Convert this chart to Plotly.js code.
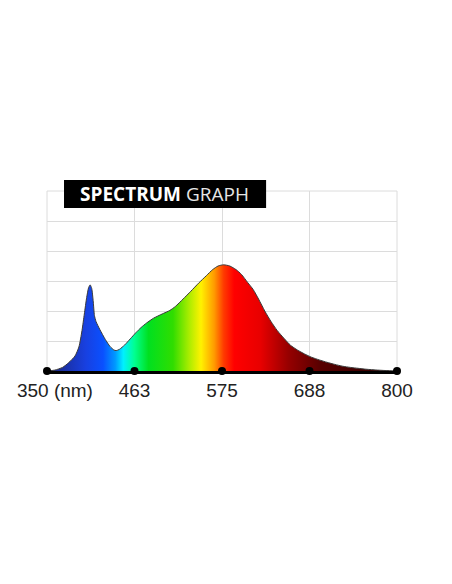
<!DOCTYPE html>
<html>
<head>
<meta charset="utf-8">
<script src="https://cdn.plot.ly/plotly-3.0.1.min.js"></script>
<style>html,body{margin:0;padding:0;background:#fff;}#chart{width:452px;height:584px;}</style>
</head>
<body>
<div id="chart"></div>
<script>
// Wavelength (nm) and relative intensity (grid units)
var wavelength = [350,360,370,378,386,391,395,398,401,403.5,405.5,407.5,409.5,411,413,418,425,431,436,439,443,450,457,464,471,478,487,498,508,515,525,535,545,555,563,570,577,585,593,600,608,615,622,630,638,646,655,663,672,681,690,700,710,720,730,740,750,760,775,790,800];
var intensity  = [0.00,0.03,0.12,0.28,0.50,0.80,1.35,1.90,2.45,2.78,2.87,2.75,2.30,1.85,1.65,1.38,1.05,0.82,0.70,0.68,0.72,0.87,1.07,1.27,1.45,1.60,1.76,1.90,2.02,2.15,2.40,2.66,2.93,3.18,3.38,3.50,3.54,3.50,3.38,3.22,2.95,2.72,2.40,2.00,1.65,1.35,1.08,0.86,0.70,0.57,0.46,0.37,0.29,0.22,0.16,0.12,0.09,0.06,0.03,0.01,0.00];
var tickValues = [350,462.5,575,687.5,800];
var tickLabels = ["\u00a0\u00a0\u00a0350 (nm)","463","575","688","800"];
var titleBold = "SPECTRUM";
var titleRest = "GRAPH";

var spectrumScale = [
  [0.000,'#1c2470'],
  [0.060,'#1a33b0'],
  [0.110,'#1840e0'],
  [0.160,'#0a50ff'],
  [0.195,'#0099ff'],
  [0.218,'#00f0ff'],
  [0.250,'#00ff90'],
  [0.290,'#00e020'],
  [0.360,'#30dd00'],
  [0.405,'#a8ec00'],
  [0.440,'#fff200'],
  [0.478,'#ff9a00'],
  [0.505,'#ff3a00'],
  [0.535,'#ff0000'],
  [0.610,'#e80000'],
  [0.690,'#960000'],
  [0.780,'#580000'],
  [1.000,'#2a0000']
];

var traces = [
  {
    x: wavelength, y: intensity,
    type: 'scatter', mode: 'lines',
    fill: 'tozeroy',
    fillgradient: {type: 'horizontal', start: 350, stop: 800, colorscale: spectrumScale},
    line: {color: '#3a3a3a', width: 1, shape: 'spline', smoothing: 0.6},
    hoverinfo: 'skip', showlegend: false
  },
  {
    x: tickValues, y: tickValues.map(function(){return 0;}),
    type: 'scatter', mode: 'markers',
    marker: {color: '#000', size: 8},
    cliponaxis: false, hoverinfo: 'skip', showlegend: false
  }
];

var layout = {
  width: 452, height: 584,
  margin: {l: 47, r: 55, t: 191, b: 213, pad: 0},
  paper_bgcolor: '#fff', plot_bgcolor: '#fff',
  showlegend: false,
  xaxis: {
    range: [350, 800], tickmode: 'array', tickvals: tickValues, ticktext: tickLabels,
    showgrid: true, gridcolor: '#dcdcdc', gridwidth: 1,
    showline: true, linecolor: '#000', linewidth: 3,
    zeroline: false, ticks: '', ticklabeloverflow: 'allow',
    tickfont: {family: '"Liberation Sans", Arial, sans-serif', size: 19, color: '#222'},
    fixedrange: true
  },
  yaxis: {
    range: [0, 6], dtick: 1, showticklabels: false,
    showgrid: true, gridcolor: '#dcdcdc', gridwidth: 1,
    zeroline: false, showline: false, ticks: '', fixedrange: true
  },
  shapes: [
    {type: 'rect', xref: 'paper', yref: 'paper', x0: 0, x1: 1, y0: 0, y1: 1,
     fillcolor: 'rgba(0,0,0,0)', line: {color: '#dcdcdc', width: 1}, layer: 'below'},
    {type: 'rect', xref: 'paper', yref: 'paper', x0: 0.0486, x1: 0.626, y0: 0.906, y1: 1.061,
     fillcolor: '#000', line: {width: 0}, layer: 'above'}
  ],
  annotations: [
    {xref: 'paper', yref: 'paper', x: 0.337, y: 0.983, xanchor: 'center', yanchor: 'middle',
     showarrow: false,
     text: '<b>' + titleBold + '</b> <span style="color:#e6e6e6">' + titleRest + '</span>',
     font: {family: '"Open Sans", "Noto Sans", sans-serif', size: 19, color: '#fff'}}
  ]
};

Plotly.newPlot('chart', traces, layout, {displayModeBar: false, staticPlot: true});
</script>
</body>
</html>
